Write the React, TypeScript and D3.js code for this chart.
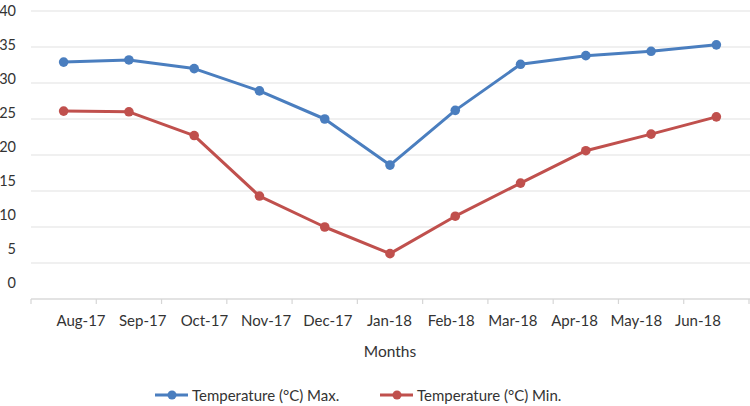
import React from "react";
import * as d3 from "d3";

const months = ["Aug-17", "Sep-17", "Oct-17", "Nov-17", "Dec-17", "Jan-18", "Feb-18", "Mar-18", "Apr-18", "May-18", "Jun-18"];
const maxTemp = [32.9, 33.2, 32.0, 28.9, 25.0, 18.6, 26.2, 32.6, 33.8, 34.4, 35.3];
const minTemp = [26.1, 26.0, 22.7, 14.3, 10.0, 6.3, 11.5, 16.1, 20.6, 22.9, 25.3];
const yTicks = [0, 5, 10, 15, 20, 25, 30, 35, 40];
const seriesNames = ["Temperature (°C) Max.", "Temperature (°C) Min."];
const colors = ["#4a7ebf", "#c0504d"];

const W = 750;
const H = 406;
const FONT = "Lato, 'Open Sans', sans-serif";

export default function App() {
  const x = d3.scaleBand<string>().domain(months).range([31, 749]);
  const y = d3.scaleLinear().domain([0, 40]).range([299, 11]);
  // tick label placement (labels in the reference sit slightly off the gridlines)
  const yLab = d3.scaleLinear().domain([0, 40]).range([282, 10]);
  const xLab = d3.scalePoint<string>().domain(months).range([81, 698]);

  const cx = (m: string) => (x(m) ?? 0) + x.bandwidth() / 2;
  const line = d3
    .line<number>()
    .x((_, i) => cx(months[i]))
    .y((v) => y(v));

  const series = [maxTemp, minTemp];

  return (
    <svg width={W} height={H} style={{ position: "absolute", left: 0, top: 0, background: "#fff" }}>
      {yTicks.map((t) => (
        <line key={"g" + t} x1={31} x2={W} y1={y(t)} y2={y(t)} stroke="#e2e2e2" strokeWidth={1.2} />
      ))}
      {yTicks.map((t) => (
        <text key={"yl" + t} x={16} y={yLab(t)} textAnchor="end" dominantBaseline="central" fontFamily={FONT} fontSize={14.5} fill="#333">
          {t}
        </text>
      ))}
      <line x1={31} x2={W} y1={y(0)} y2={y(0)} stroke="#d6d6d6" strokeWidth={1.2} />
      {[...months.map((m) => x(m) ?? 0), 749].map((v, i) => (
        <line key={"t" + i} x1={v} x2={v} y1={y(0)} y2={y(0) + 5} stroke="#d6d6d6" strokeWidth={1.2} />
      ))}
      {months.map((m) => (
        <text key={"xl" + m} x={xLab(m)} y={320} textAnchor="middle" dominantBaseline="central" fontFamily={FONT} fontSize={15} fill="#333">
          {m}
        </text>
      ))}
      <text x={390} y={351} textAnchor="middle" dominantBaseline="central" fontFamily={FONT} fontSize={15.5} fill="#333">
        Months
      </text>
      {series.map((s, k) => (
        <g key={"s" + k}>
          <path d={line(s) ?? ""} fill="none" stroke={colors[k]} strokeWidth={3} strokeLinejoin="round" />
          {s.map((v, i) => (
            <circle key={i} cx={cx(months[i])} cy={y(v)} r={4.8} fill={colors[k]} />
          ))}
        </g>
      ))}
      {seriesNames.map((n, k) => {
        const lx = k === 0 ? 155 : 380;
        return (
          <g key={"lg" + k}>
            <line x1={lx} x2={lx + 33} y1={395} y2={395} stroke={colors[k]} strokeWidth={3} />
            <circle cx={lx + 17} cy={395} r={4.5} fill={colors[k]} />
            <text x={lx + 37} y={395} dominantBaseline="central" fontFamily={FONT} fontSize={15} fill="#333">
              {n}
            </text>
          </g>
        );
      })}
    </svg>
  );
}
